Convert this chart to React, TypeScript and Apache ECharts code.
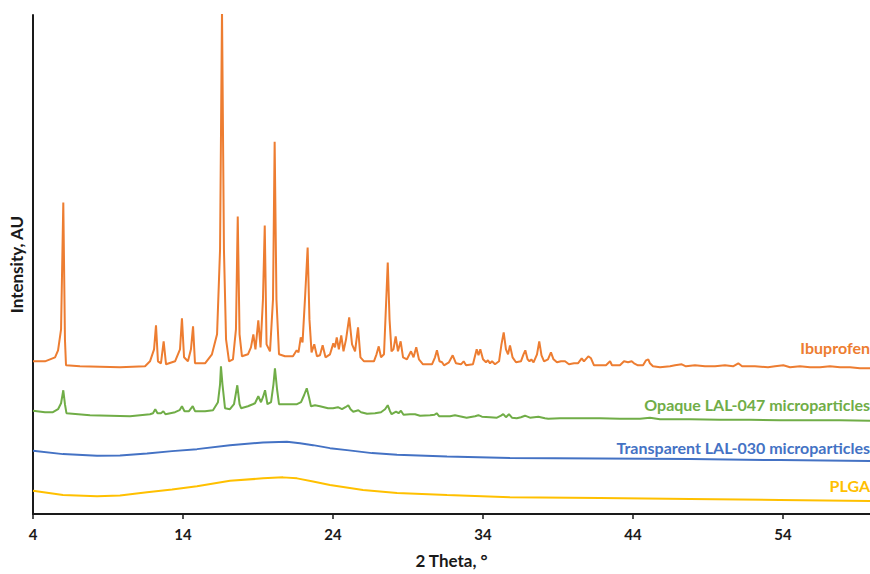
import React, { useEffect, useRef } from "react";
import * as echarts from "echarts";

const xTicks = [4, 14, 24, 34, 44, 54];

const ibuprofen: [number, number][] = [
  [4.0, 30.6], [4.8, 30.6], [5.47, 31.4], [5.67, 32.8], [5.87, 37.0], [6.02, 62.4], [6.13, 35], [6.2, 29.8],
  [7.13, 29.6], [9.8, 29.4], [11.47, 29.6], [11.8, 30.6], [12.07, 33], [12.2, 37.8], [12.33, 30.6], [12.53, 30.2],
  [12.71, 34.6], [12.87, 30], [13.47, 30.6], [13.8, 33], [13.93, 39.2], [14.07, 31.4], [14.33, 30.6], [14.53, 33],
  [14.67, 37.6], [14.8, 30.2], [15.47, 30.2], [15.93, 32], [16.27, 36], [16.47, 53], [16.6, 101], [16.73, 53],
  [16.87, 35], [17.07, 30.6], [17.33, 31], [17.53, 37], [17.65, 59.6], [17.77, 36], [17.93, 31.6], [18.33, 32],
  [18.53, 33.4], [18.69, 36], [18.83, 33], [19.02, 38.8], [19.17, 33.4], [19.33, 43], [19.45, 57.8], [19.57, 34],
  [19.8, 32.6], [20.0, 43], [20.11, 74.6], [20.23, 43], [20.4, 32], [20.8, 31.6], [21.33, 31.6], [21.58, 32.8],
  [21.7, 32.4], [21.85, 35.4], [21.97, 34.4], [22.13, 43], [22.31, 53.4], [22.43, 39], [22.57, 32.4], [22.75, 34],
  [22.93, 31.6], [23.13, 31.8], [23.31, 33.8], [23.5, 31.4], [23.8, 32], [24.02, 34.2], [24.13, 33.4], [24.25, 35.4],
  [24.39, 33], [24.55, 35.8], [24.7, 32.6], [24.87, 35], [25.08, 39.4], [25.27, 34], [25.47, 32.6], [25.67, 37.4],
  [25.83, 31.4], [26.07, 30.6], [26.73, 30.6], [26.9, 32], [27.05, 33.6], [27.2, 31.4], [27.4, 32], [27.55, 43],
  [27.65, 50.4], [27.77, 39], [27.9, 32.6], [28.03, 33], [28.18, 35.6], [28.33, 32.6], [28.51, 34.6], [28.67, 31.4],
  [28.93, 31], [29.2, 32.6], [29.37, 31.4], [29.55, 33.4], [29.73, 31], [30.0, 30], [30.6, 30], [30.8, 31.4],
  [30.93, 32.8], [31.1, 30.6], [31.27, 30.4], [31.4, 29.8], [31.73, 30.4], [31.98, 31.8], [32.2, 30.2], [32.53, 30],
  [32.71, 30.6], [32.87, 29.8], [33.33, 30], [33.58, 33], [33.7, 31.8], [33.82, 33], [34.0, 31], [34.2, 30.4],
  [34.33, 30.8], [34.47, 30.2], [34.6, 30.6], [34.8, 30], [35.07, 30.6], [35.23, 34], [35.38, 36.4], [35.53, 33],
  [35.67, 32], [35.8, 33.8], [35.97, 31.4], [36.2, 30.4], [36.53, 30.6], [36.7, 32], [36.82, 32.8], [36.97, 31],
  [37.1, 30.6], [37.22, 31], [37.37, 30.4], [37.6, 32], [37.75, 34.6], [37.9, 31.8], [38.07, 30.6], [38.33, 31],
  [38.53, 32.4], [38.7, 31], [38.93, 30.4], [39.2, 30.6], [39.47, 30.6], [39.73, 30], [40.07, 30.2], [40.33, 30.2],
  [40.58, 31.2], [40.73, 30.6], [41.02, 31.6], [41.2, 31.2], [41.4, 29.8], [41.93, 29.8], [42.2, 29.8], [42.47, 30.6],
  [42.6, 29.8], [43.13, 29.8], [43.4, 30.6], [43.67, 30.4], [43.91, 30.6], [44.07, 30.2], [44.33, 29.8], [44.67, 29.8],
  [44.87, 30.8], [45.02, 31], [45.13, 30.2], [45.33, 29.6], [45.8, 29.4], [46.47, 29.6], [46.8, 29.8], [47.25, 30],
  [47.53, 29.6], [48.13, 29.8], [48.8, 29.6], [49.47, 29.6], [50.13, 29.8], [50.67, 29.6], [51.02, 30.2], [51.27, 29.6],
  [52.13, 29.6], [53.0, 29.4], [53.47, 29.6], [54.02, 29.8], [54.47, 29.4], [55.13, 29.6], [55.8, 29.4], [56.47, 29.4],
  [57.13, 29.6], [57.8, 29.4], [58.47, 29.4], [59.13, 29.2], [59.8, 29.2],
];

const opaque: [number, number][] = [
  [4.0, 20.7], [4.8, 20.4], [5.33, 20.4], [5.67, 21], [5.87, 22.2], [6.02, 24.8], [6.13, 22], [6.23, 20.2],
  [7.8, 19.8], [10.47, 19.6], [11.8, 20], [12.0, 20.2], [12.15, 21], [12.3, 20.2], [12.53, 20.2], [12.69, 20.6],
  [12.83, 20], [13.47, 20.4], [13.77, 20.8], [13.93, 21.6], [14.1, 20.6], [14.4, 20.6], [14.65, 21.6], [14.8, 20.6],
  [15.47, 20.6], [16.0, 20.8], [16.33, 22.4], [16.47, 26], [16.53, 29.6], [16.63, 26], [16.8, 21.2], [17.13, 21],
  [17.4, 22], [17.62, 25.8], [17.77, 22], [17.87, 21.2], [18.33, 21.6], [18.65, 22], [18.8, 22.2], [19.02, 23.6],
  [19.2, 22.4], [19.33, 23.4], [19.47, 24.8], [19.63, 22], [19.87, 22.4], [20.03, 26], [20.13, 29.2], [20.27, 25],
  [20.4, 22], [21.13, 22], [21.6, 22], [21.87, 22.4], [22.07, 23.8], [22.25, 25.2], [22.4, 23.4], [22.53, 21.6],
  [22.8, 21.8], [23.13, 21.6], [23.67, 21.2], [24.0, 21.2], [24.33, 21.4], [24.6, 21], [24.83, 21.4], [25.02, 21.8],
  [25.17, 21], [25.35, 20.5], [25.69, 20.8], [25.87, 20.4], [26.27, 20.1], [26.8, 20.2], [27.2, 20.4], [27.47, 21],
  [27.65, 21.8], [27.8, 20.6], [27.91, 20], [28.2, 20.5], [28.37, 20.2], [28.53, 20.7], [28.7, 19.9], [29.13, 20],
  [29.47, 20], [29.8, 19.7], [30.47, 19.8], [30.77, 19.9], [30.91, 20.2], [31.07, 19.6], [31.8, 19.6], [32.13, 19.8],
  [32.91, 19.3], [33.47, 19.6], [33.69, 19.8], [33.93, 19.5], [34.47, 19.4], [34.93, 19.3], [35.2, 19.7], [35.35, 20],
  [35.53, 19.4], [35.73, 20], [35.93, 19.3], [36.25, 19.2], [36.53, 19.4], [36.8, 19.7], [37.13, 19.3], [37.69, 19.5],
  [38.13, 19.2], [38.35, 19.1], [39.13, 19.2], [40.13, 19.2], [41.8, 19.2], [43.13, 19.1], [44.47, 19.1], [45.13, 19.3],
  [45.8, 19], [47.8, 19], [49.8, 18.9], [51.8, 18.9], [53.8, 18.8], [55.8, 18.8], [57.8, 18.8], [59.8, 18.7],
];

const transparent: [number, number][] = [
  [4.0, 12.66], [6.0, 12.0], [8.27, 11.66], [9.8, 11.7], [11.6, 12.14], [13.27, 12.6], [14.93, 13], [17.13, 13.8],
  [19.33, 14.34], [20.93, 14.46], [21.8, 14.2], [22.67, 13.8], [23.8, 13.2], [24.93, 12.8], [26.6, 12.2], [28.27, 11.86],
  [31.6, 11.54], [35.8, 11.2], [41.8, 11.1], [47.8, 11], [53.8, 10.8], [59.8, 10.6],
];

const plga: [number, number][] = [
  [4.0, 4.66], [6.0, 3.8], [8.27, 3.54], [9.8, 3.7], [11.6, 4.34], [13.27, 4.9], [14.93, 5.54], [17.13, 6.66],
  [19.33, 7.14], [20.67, 7.34], [21.6, 7.14], [22.67, 6.5], [23.8, 5.8], [26.0, 4.8], [28.27, 4.2], [31.6, 3.8],
  [35.8, 3.34], [41.8, 3.2], [47.8, 3.0], [53.8, 2.8], [59.8, 2.6],
];

const seriesNames = ["Ibuprofen", "Opaque LAL-047 microparticles", "Transparent LAL-030 microparticles", "PLGA"];
const seriesColors = ["#ED7D31", "#70AD47", "#4472C4", "#FFC000"];
const labelY = [349, 406, 449, 487];

export default function App() {
  const ref = useRef<HTMLDivElement>(null);
  useEffect(() => {
    if (!ref.current) return;
    const chart = echarts.init(ref.current, undefined, { renderer: "svg" });
    const font = "Lato, 'Open Sans', sans-serif";
    const datasets = [ibuprofen, opaque, transparent, plga];
    chart.setOption({
      animation: false,
      backgroundColor: "#ffffff",
      grid: { left: 33, right: 0, top: 15, bottom: 59 },
      xAxis: {
        type: "value",
        min: 4,
        max: 59.8,
        name: "2 Theta, °",
        nameLocation: "middle",
        nameGap: 38,
        nameTextStyle: { fontFamily: font, fontWeight: "bold", fontSize: 17, color: "#1a1a1a" },
        axisLine: { show: true, onZero: false, lineStyle: { color: "#1a1a1a", width: 2 } },
        axisTick: { show: true, inside: false, length: 5, lineStyle: { color: "#1a1a1a", width: 1.5 }, customValues: xTicks },
        axisLabel: { fontFamily: font, fontWeight: "bold", fontSize: 15, color: "#1a1a1a", margin: 12, customValues: xTicks },
        splitLine: { show: false },
      },
      yAxis: {
        type: "value",
        min: 0,
        max: 100,
        name: "Intensity, AU",
        nameLocation: "middle",
        nameRotate: 90,
        nameGap: 8,
        nameTextStyle: { fontFamily: font, fontWeight: "bold", fontSize: 17, color: "#1a1a1a" },
        axisLine: { show: true, lineStyle: { color: "#1a1a1a", width: 2 } },
        axisTick: { show: false },
        axisLabel: { show: false },
        splitLine: { show: false },
      },
      series: datasets.map((d, i) => ({
        name: seriesNames[i],
        type: "line",
        data: d,
        showSymbol: false,
        symbol: "none",
        clip: true,
        lineStyle: { color: seriesColors[i], width: 2 },
        itemStyle: { color: seriesColors[i] },
        z: 10 - i,
      })),
      graphic: seriesNames.map((n, i) => ({
        type: "text",
        right: 0,
        top: labelY[i] - 10,
        style: {
          text: n,
          fill: seriesColors[i],
          font: `bold 16px ${font}`,
        },
      })),
    });
    return () => chart.dispose();
  }, []);
  return <div ref={ref} style={{ position: "absolute", left: 0, top: 0, width: 870, height: 574 }} />;
}
